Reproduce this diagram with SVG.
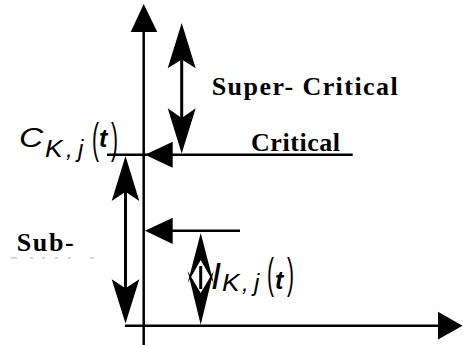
<svg xmlns="http://www.w3.org/2000/svg" width="463" height="345" viewBox="0 0 463 345">
  <style>
    .ln { stroke: #000; stroke-width: 2.5; fill: none; }
    .shaft { stroke: #000; stroke-width: 3; fill: none; }
    .hd { fill: #000; stroke: none; }
    .lbl { font-family: "Liberation Serif", "Times New Roman", serif; font-weight: bold; font-size: 26px; fill: #000; }
    .math { font-family: "Liberation Sans", Arial, sans-serif; font-style: italic; fill: #000; }
    .par { font-family: "Liberation Sans", Arial, sans-serif; font-style: normal; font-size: 42px; fill: #000; }
    .trace { fill: #bbb; }
  </style>
  <rect width="463" height="345" fill="#fff"/>

  <g id="connectors">
    <!-- vertical axis -->
    <line class="ln" x1="143.7" y1="20" x2="143.7" y2="345"/>
    <polygon class="hd" points="143.7,4 157.3,32 130.7,32"/>
    <!-- horizontal axis -->
    <line class="ln" x1="125" y1="325.7" x2="445" y2="325.7"/>
    <polygon class="hd" points="462.5,325.7 438,311.7 438,339.5"/>
    <!-- critical line -->
    <line class="ln" x1="107" y1="154.7" x2="352.7" y2="154.7"/>
    <polygon class="hd" points="145,154.7 172.7,141.7 172.7,167.7"/>
    <!-- second line -->
    <line class="ln" x1="160" y1="230.7" x2="240" y2="230.7"/>
    <polygon class="hd" points="145,230.7 172.7,217.7 172.7,244"/>
    <!-- super-critical double arrow -->
    <line class="shaft" x1="181.7" y1="58" x2="181.7" y2="119"/>
    <polygon class="hd" points="181.7,23 195.7,68.3 181.7,59.5 167.7,68.3"/>
    <polygon class="hd" points="181.7,153.5 195.7,108.3 181.7,118 167.7,108.3"/>
    <!-- sub-critical double arrow -->
    <line class="shaft" x1="125.5" y1="190" x2="125.5" y2="290"/>
    <polygon class="hd" points="125.5,156 139.3,201 125.5,191.7 111.7,201"/>
    <polygon class="hd" points="125.5,323.5 139.3,279.3 125.5,288.3 111.7,279.3"/>
    <!-- I double arrow -->
    <line class="shaft" x1="200.7" y1="266" x2="200.7" y2="289"/>
    <polygon class="hd" points="200.7,233 213.7,283 200.7,260 187.7,283"/>
    <polygon class="hd" points="200.7,324.7 213.7,271 200.7,293 187.7,271"/>
  </g>

  <g id="label-super-critical">
    <text class="lbl" x="211.7" y="95" textLength="186" lengthAdjust="spacing">Super- Critical</text>
  </g>
  <g id="label-critical">
    <text class="lbl" x="251" y="151" textLength="89" lengthAdjust="spacing">Critical</text>
  </g>
  <g id="label-sub-critical">
    <text class="lbl" x="16.7" y="250.5" textLength="57" lengthAdjust="spacing">Sub-</text>
    <g id="sub-cut-trace">
      <rect class="trace" x="11" y="257.3" width="6" height="1.2"/>
      <rect class="trace" x="30" y="257.3" width="3" height="1.2"/>
      <rect class="trace" x="42" y="257.3" width="3" height="1.2"/>
      <rect class="trace" x="55" y="257.3" width="3" height="1.2"/>
      <rect class="trace" x="68" y="257.3" width="3" height="1.2"/>
      <rect class="trace" x="90" y="257.3" width="4" height="1.2"/>
    </g>
  </g>

  <g id="label-c">
    <text class="math" transform="translate(19,147) scale(1.2,1)" font-size="28">C</text>
    <text class="math" transform="translate(45,157) scale(1.1,1)" font-size="24">K</text>
    <text class="math" x="66" y="157" font-size="24">,</text>
    <text class="math" x="78" y="157" font-size="24">j</text>
    <text class="par" transform="translate(92,153) scale(0.5,1)">(</text>
    <text class="math" x="99" y="147" font-size="25" font-weight="bold">t</text>
    <text class="par" transform="translate(111,153) scale(0.5,1)">)</text>
  </g>

  <g id="label-i">
    <text class="math" x="211" y="289" font-size="36">I</text>
    <text class="math" transform="translate(222,291) scale(1.1,1)" font-size="24">K</text>
    <text class="math" x="242" y="291" font-size="24">,</text>
    <text class="math" x="254" y="291" font-size="24">j</text>
    <text class="par" transform="translate(267,288) scale(0.5,1)">(</text>
    <text class="math" x="275" y="289" font-size="25" font-weight="bold">t</text>
    <text class="par" transform="translate(287,288) scale(0.5,1)">)</text>
  </g>
</svg>
